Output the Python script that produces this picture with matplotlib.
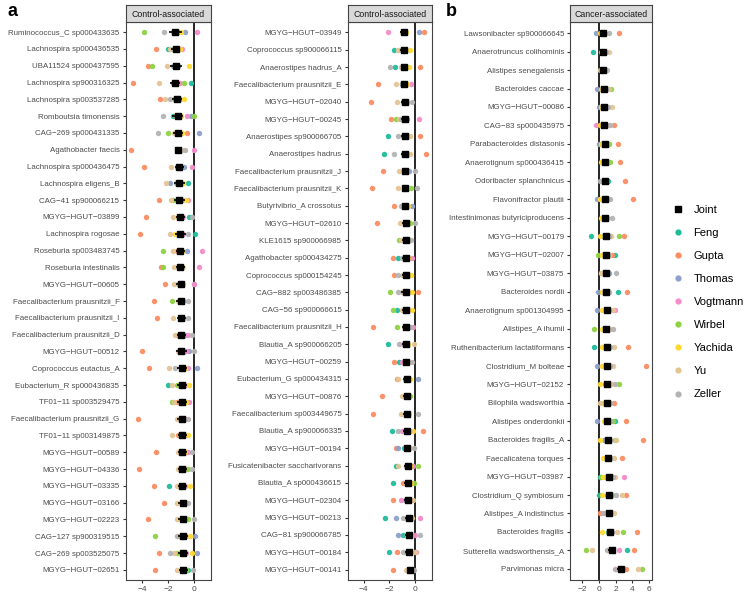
import matplotlib
matplotlib.use("Agg")
import matplotlib.pyplot as plt
from matplotlib.lines import Line2D

plt.rcParams["font.family"] = ["Liberation Sans", "DejaVu Sans"]

STUDIES = ["Feng", "Gupta", "Thomas", "Vogtmann", "Wirbel", "Yachida", "Yu", "Zeller"]
COLORS = ["#1FBC9C", "#FC8D62", "#8DA0CB", "#F38CC8", "#8ED243", "#FFD92F", "#E5C494", "#B3B3B3"]

# ---------------------------------------------------------------- panel a (left)
P1_NAMES = [
    "Ruminococcus_C sp000433635", "Lachnospira sp000436535", "UBA11524 sp000437595",
    "Lachnospira sp900316325", "Lachnospira sp003537285", "Romboutsia timonensis",
    "CAG\u2212269 sp000431335", "Agathobacter faecis", "Lachnospira sp000436475",
    "Lachnospira eligens_B", "CAG\u221241 sp900066215", "MGYG\u2212HGUT\u221203899",
    "Lachnospira rogosae", "Roseburia sp003483745", "Roseburia intestinalis",
    "MGYG\u2212HGUT\u221200605", "Faecalibacterium prausnitzii_F", "Faecalibacterium prausnitzii_I",
    "Faecalibacterium prausnitzii_D", "MGYG\u2212HGUT\u221200512", "Coprococcus eutactus_A",
    "Eubacterium_R sp000436835", "TF01\u221211 sp003529475", "Faecalibacterium prausnitzii_G",
    "TF01\u221211 sp003149875", "MGYG\u2212HGUT\u221200589", "MGYG\u2212HGUT\u221204336",
    "MGYG\u2212HGUT\u221203335", "MGYG\u2212HGUT\u221203166", "MGYG\u2212HGUT\u221202223",
    "CAG\u2212127 sp900319515", "CAG\u2212269 sp003525075", "MGYG\u2212HGUT\u221202651"]
P1_JOINT = [-1.45, -1.40, -1.40, -1.45, -1.32, -1.25, -1.25, -1.19, -1.14, -1.12, -1.12,
            -1.06, -1.04, -1.04, -1.04, -1.01, -1.01, -0.99, -0.96, -0.96, -0.94, -0.94,
            -0.94, -0.94, -0.91, -0.91, -0.88, -0.88, -0.86, -0.86, -0.83, -0.83, -0.81]
P1_CI = [0.5, 0.35, 0.45, 0.4, 0.4, 0.45, 0.4, 0.3, 0.35, 0.4, 0.4, 0.35, 0.4, 0.35, 0.35,
         0.35, 0.35, 0.35, 0.35, 0.4, 0.4, 0.4, 0.4, 0.35, 0.35, 0.35, 0.35, 0.35, 0.35,
         0.35, 0.4, 0.4, 0.35]
# columns follow STUDIES
P1_STUDY = [
    [-1.2, -1.3, -0.65, 0.23, -3.87, -0.99, -1.6, -2.31],
    [-2.03, -2.94, -1.2, -0.88, -1.6, -1.1, -1.84, -1.5],
    [-1.5, -3.53, -1.2, -1.3, -3.22, -0.39, -2.10, -1.6],
    [-0.23, -4.75, -1.2, -1.1, -0.78, -1.3, -2.68, -1.6],
    [-1.3, -2.62, -1.1, -1.2, -1.5, -0.78, -2.23, -1.84],
    [-1.61, -1.4, -0.25, -0.49, 0.03, -1.0, -1.3, -2.39],
    [-1.4, -0.55, 0.42, -1.1, -1.97, -0.9, -1.5, -2.81],
    [-1.0, -4.91, -1.1, 0.05, -1.2, -1.3, -1.0, -0.68],
    [-1.0, -3.87, -0.73, -0.16, -1.2, -1.1, -1.79, -1.3],
    [-0.47, -1.3, -1.84, -1.0, -1.2, -0.8, -2.16, -1.4],
    [-1.3, -2.68, -0.9, -0.42, -1.58, -0.6, -1.8, -1.0],
    [-0.39, -3.71, -1.0, -0.8, -1.2, -1.2, -1.64, -0.16],
    [0.10, -4.18, -0.9, -0.8, -1.2, -1.45, -1.84, -0.42],
    [-1.2, -1.3, -0.55, 0.62, -2.36, -0.9, -1.64, -1.1],
    [-1.0, -2.57, -1.1, 0.42, -2.39, -0.81, -1.56, -0.9],
    [-1.1, -2.26, 0.0, 0.03, -1.2, -0.8, -1.56, -0.9],
    [-1.1, -3.06, -0.8, -0.9, -1.71, -0.9, -1.2, -0.47],
    [-0.9, -2.88, -0.8, -0.8, -1.1, -0.8, -1.58, -0.47],
    [-0.8, -1.2, -0.7, -0.47, -1.0, -0.9, -1.48, -0.16],
    [-0.7, -4.0, -0.4, -0.6, -0.8, -1.1, -1.25, 0.03],
    [-0.8, -3.45, 0.23, -0.42, -0.9, -0.7, -1.92, -1.45],
    [-2.03, -1.2, -0.9, -0.7, -1.3, -0.34, -1.71, -1.0],
    [-1.0, -1.3, -0.7, -0.36, -1.71, -0.6, -1.56, -0.8],
    [-0.7, -4.31, -0.8, -0.7, -0.9, -0.8, -1.27, -0.42],
    [-1.0, -1.2, -0.8, -0.7, -1.1, -0.47, -1.69, -0.9],
    [-0.8, -2.96, -0.6, -0.47, -0.9, -0.7, -1.19, -0.16],
    [-0.7, -4.23, -0.6, -0.7, -0.42, -0.8, -1.19, -0.16],
    [-1.90, -3.06, -0.8, -0.7, -1.0, -0.29, -1.32, -0.9],
    [-0.7, -2.31, -0.7, -0.8, -0.9, -0.9, -1.32, -0.42],
    [-0.7, -3.56, -0.6, -0.7, -0.42, -0.8, -1.3, 0.03],
    [-0.8, -1.1, 0.08, -0.6, -2.99, -0.29, -1.2, -1.32],
    [-0.7, -2.73, 0.23, -0.6, -1.3, -0.13, -1.5, -1.82],
    [-0.42, -2.99, -0.6, -0.7, -0.6, -0.8, -1.27, -0.08]]

# ---------------------------------------------------------------- panel a (right)
P2_NAMES = [
    "MGYG\u2212HGUT\u221203949", "Coprococcus sp900066115", "Anaerostipes hadrus_A",
    "Faecalibacterium prausnitzii_E", "MGYG\u2212HGUT\u221202040", "MGYG\u2212HGUT\u221200245",
    "Anaerostipes sp900066705", "Anaerostipes hadrus", "Faecalibacterium prausnitzii_J",
    "Faecalibacterium prausnitzii_K", "Butyrivibrio_A crossotus", "MGYG\u2212HGUT\u221202610",
    "KLE1615 sp900066985", "Agathobacter sp000434275", "Coprococcus sp000154245",
    "CAG\u2212882 sp003486385", "CAG\u221256 sp900066615", "Faecalibacterium prausnitzii_H",
    "Blautia_A sp900066205", "MGYG\u2212HGUT\u221200259", "Eubacterium_G sp000434315",
    "MGYG\u2212HGUT\u221200876", "Faecalibacterium sp003449675", "Blautia_A sp900066335",
    "MGYG\u2212HGUT\u221200194", "Fusicatenibacter saccharivorans", "Blautia_A sp000436615",
    "MGYG\u2212HGUT\u221202304", "MGYG\u2212HGUT\u221200213", "CAG\u221281 sp900066785",
    "MGYG\u2212HGUT\u221200184", "MGYG\u2212HGUT\u221200141"]
P2_JOINT = [-0.84, -0.84, -0.81, -0.81, -0.78, -0.78, -0.76, -0.76, -0.73, -0.73, -0.73,
            -0.70, -0.70, -0.70, -0.70, -0.70, -0.68, -0.68, -0.68, -0.65, -0.60, -0.63,
            -0.63, -0.63, -0.57, -0.52, -0.52, -0.52, -0.47, -0.47, -0.47, -0.37]
P2_CI = [0.3] * 15 + [0.35] + [0.3] * 15 + [0.25]
P2_STUDY = [
    [-0.9, 0.70, 0.37, -2.06, -0.8, -0.7, -1.0, -0.9],
    [-1.59, -1.0, -0.7, -0.8, -0.9, -0.37, -1.28, -1.1],
    [-1.54, 0.44, -0.7, -0.8, -0.9, -0.42, -1.1, -1.93],
    [-1.02, -2.90, -0.7, -0.31, -0.9, -0.6, -1.46, -1.0],
    [-0.9, -3.39, -0.6, -0.7, -0.8, -0.6, -1.36, -0.23],
    [-1.0, -1.83, -0.6, 0.34, -1.46, -0.7, -1.2, -1.05],
    [-2.06, 0.42, -0.6, -0.7, -0.9, -0.6, -0.37, -1.33],
    [-2.38, 0.89, -0.6, -0.7, -0.9, -0.6, -0.37, -1.62],
    [-0.8, -2.45, -0.42, -0.6, -0.8, -0.7, -1.20, 0.0],
    [-0.8, -3.37, -0.6, -0.6, -0.31, -0.6, -1.28, 0.21],
    [-0.9, -1.59, -0.18, -0.6, -0.8, -0.5, -0.9, -1.10],
    [-0.8, -2.95, -0.6, -0.6, -0.37, -0.6, -1.15, 0.0],
    [-0.9, -0.8, -0.6, -0.6, -1.20, -0.5, -1.05, -0.29],
    [-1.33, -1.72, -0.6, -0.18, -0.8, -0.5, -0.9, -1.02],
    [-0.9, -1.62, -0.6, -0.6, -0.8, -0.26, -0.9, -1.33],
    [-0.9, 0.29, -0.6, -0.6, -1.93, -0.18, -1.0, -1.28],
    [-1.41, -0.9, -0.6, -0.5, -1.72, -0.21, -1.02, -0.8],
    [-0.8, -3.24, -0.5, -0.13, -1.41, -0.6, -0.85, -0.3],
    [-2.06, -0.8, -0.6, -0.9, -0.7, -0.5, -0.05, -1.20],
    [-1.23, -1.64, -0.6, -1.02, -0.7, -0.5, -0.5, -0.21],
    [-0.8, -1.41, 0.23, -0.6, -0.7, -0.4, -1.28, -0.8],
    [-0.8, -2.58, -0.5, -0.6, -0.37, -0.5, -1.02, -0.7],
    [-0.7, -3.29, -0.5, -0.6, -0.7, -0.45, -1.07, 0.23],
    [-1.75, 0.68, -0.5, -1.02, -0.7, -0.10, -0.4, -1.33],
    [-0.84, -1.49, -1.28, -0.6, -0.6, -0.4, -0.7, -0.03],
    [-1.49, -0.7, -0.5, -0.10, 0.29, -0.4, -1.28, -0.7],
    [-1.67, -0.94, -0.5, -0.5, -0.03, -0.3, -0.7, -0.6],
    [-0.7, -1.72, -0.8, -1.10, -0.6, -0.3, -0.10, -0.6],
    [-2.32, -0.6, -1.46, 0.42, -0.5, -0.3, -0.2, -0.89],
    [-0.94, -0.6, -1.33, 0.03, -0.5, -0.3, -0.6, 0.42],
    [-2.01, -1.41, -0.6, 0.08, -0.5, -0.3, 0.0, -0.89],
    [-0.5, -1.72, -0.4, -0.4, -0.4, -0.3, -0.68, -0.03]]

# ---------------------------------------------------------------- panel b
P3_NAMES = [
    "Lawsonibacter sp900066645", "Anaerotruncus colihominis", "Alistipes senegalensis",
    "Bacteroides caccae", "MGYG\u2212HGUT\u221200086", "CAG\u221283 sp000435975",
    "Parabacteroides distasonis", "Anaerotignum sp000436415", "Odoribacter splanchnicus",
    "Flavonifractor plautii", "Intestinimonas butyriciproducens", "MGYG\u2212HGUT\u221200179",
    "MGYG\u2212HGUT\u221202007", "MGYG\u2212HGUT\u221203875", "Bacteroides nordii",
    "Anaerotignum sp001304995", "Alistipes_A ihumii", "Ruthenibacterium lactatiformans",
    "Clostridium_M bolteae", "MGYG\u2212HGUT\u221202152", "Bilophila wadsworthia",
    "Alistipes onderdonkii", "Bacteroides fragilis_A", "Faecalicatena torques",
    "MGYG\u2212HGUT\u221203987", "Clostridium_Q symbiosum", "Alistipes_A indistinctus",
    "Bacteroides fragilis", "Sutterella wadsworthensis_A", "Parvimonas micra"]
P3_JOINT = [0.48, 0.56, 0.56, 0.63, 0.63, 0.67, 0.71, 0.75, 0.75, 0.79, 0.79, 0.87, 0.91,
            0.91, 0.91, 0.95, 0.91, 0.95, 0.99, 1.03, 1.03, 1.03, 1.07, 1.15, 1.19, 1.19,
            1.27, 1.39, 1.59, 2.62]
P3_CI = [0.3, 0.3, 0.25, 0.3, 0.3, 0.3, 0.3, 0.3, 0.3, 0.3, 0.3, 0.35, 0.3, 0.3, 0.3,
         0.3, 0.3, 0.3, 0.3, 0.3, 0.3, 0.35, 0.35, 0.3, 0.35, 0.3, 0.35, 0.4, 0.45, 0.4]
P3_STUDY = [
    [0.4, 2.42, -0.36, 0.5, 0.6, 0.2, 0.8, 1.27],
    [-0.63, 0.6, 0.4, 0.5, 0.7, 0.3, 1.27, 0.9],
    [0.5, 0.6, 0.4, 0.5, 0.6, 0.3, 0.1, 0.95],
    [0.5, 0.8, -0.24, 0.5, 1.47, 0.3, 1.27, 0.9],
    [0.5, 0.8, 0.0, 0.5, 0.8, 0.3, 1.55, 1.1],
    [0.6, 1.87, 0.4, -0.32, 0.8, 0.16, 1.0, 1.35],
    [0.6, 2.30, 0.0, 0.6, 1.23, 0.3, 0.9, 1.0],
    [0.7, 2.58, 0.5, 0.7, 1.35, 0.24, 1.0, 0.9],
    [1.15, 3.13, 0.5, 0.7, 0.9, 0.4, 0.6, 0.16],
    [0.7, 4.13, -0.24, 0.7, 1.0, 0.2, 1.1, 1.4],
    [0.7, 1.0, 0.5, 0.7, 0.9, 0.24, 1.0, 1.59],
    [-0.91, 3.02, 0.5, 0.8, 2.38, 0.16, 1.47, 1.2],
    [1.94, 1.59, 0.6, 0.8, -0.04, 0.4, 1.2, 1.1],
    [0.8, 1.1, 1.23, 0.8, 1.0, 0.3, 0.28, 2.06],
    [2.26, 3.33, -0.08, 0.8, 1.0, 0.4, 0.6, 1.2],
    [0.9, 1.2, -0.16, 1.94, 1.0, 0.4, 1.67, 1.2],
    [0.8, 1.2, 0.6, 0.9, -0.60, 0.4, 1.3, 1.75],
    [-0.60, 3.49, 0.6, 1.0, 1.1, 0.4, 1.87, 1.4],
    [0.9, 5.63, -0.24, 1.0, 1.1, 0.4, 1.67, 1.3],
    [1.0, 1.3, 0.7, 1.2, 2.42, 0.16, 1.5, 1.94],
    [1.0, 1.83, 0.7, 1.1, 1.2, 0.5, 0.2, 1.3],
    [1.98, 3.25, -0.24, 1.1, 1.75, 0.6, 0.9, 1.3],
    [1.0, 5.32, 0.6, 1.2, 1.9, 0.16, 2.06, 1.4],
    [1.1, 2.82, 0.9, 1.2, 1.3, 0.56, 1.83, 1.4],
    [0.16, 1.5, 0.9, 3.06, 0.3, 0.48, 1.94, 1.7],
    [0.0, 3.21, 1.0, 1.3, 1.6, 0.36, 2.78, 2.02],
    [1.1, 0.12, 1.0, 1.3, 1.4, 0.8, 1.83, 0.55],
    [1.05, 4.52, 1.2, 1.5, 2.86, 0.44, 2.14, 1.6],
    [3.41, 4.25, 1.3, 2.38, -1.51, 1.2, -0.75, 0.95],
    [2.8, 3.25, 2.9, 1.90, 5.16, 2.5, 4.68, 2.0]]

W, H = 748, 596
fig = plt.figure(figsize=(W / 100, H / 100), dpi=100)

TICK_COL = "#4D4D4D"
panels = [
    (P1_NAMES, P1_JOINT, P1_CI, P1_STUDY, 125.7, 85.0, (-5.3, 1.32), [-4, -2, 0], "Control-associated"),
    (P2_NAMES, P2_JOINT, P2_CI, P2_STUDY, 347.7, 84.0, (-5.25, 1.33), [-4, -2, 0], "Control-associated"),
    (P3_NAMES, P3_JOINT, P3_CI, P3_STUDY, 570.3, 82.0, (-3.38, 6.38), [-2, 0, 2, 4, 6], "Cancer-associated"),
]
top_px, bot_px, strip_px = 22, 580, 17

for names, joint, ci, study, x0, wpx, xlim, xt, title in panels:
    n = len(names)
    ax = fig.add_axes([x0 / W, 1 - bot_px / H, wpx / W, (bot_px - top_px) / H])
    ys = [n - i for i in range(n)]
    ax.axvline(0, color="black", lw=1.2, zorder=1)
    for j, (st, col) in enumerate(zip(STUDIES, COLORS)):
        ax.plot([row[j] for row in study], ys, "o", ms=3.9, color=col, mec="none",
                alpha=0.95, zorder=2)
    ax.errorbar(joint, ys, xerr=ci, fmt="s", ms=4.2, color="black", ecolor="black",
                elinewidth=1.2, capsize=0, zorder=4)
    ax.set_xlim(*xlim)
    ax.set_ylim(0.4, n + 0.6)
    ax.set_yticks(ys)
    ax.set_yticklabels(names)
    ax.set_xticks(xt)
    ax.set_xticklabels([str(v).replace("-", "\u2212") for v in xt])
    ax.tick_params(axis="both", labelsize=5.7, labelcolor=TICK_COL, color="#333333",
                   length=2.5, width=0.8, pad=2)
    ax.tick_params(axis="x", labelsize=6.0, pad=1.5)
    for sp in ax.spines.values():
        sp.set_color("#444444")
        sp.set_linewidth(0.8)
    # facet strip
    sax = fig.add_axes([x0 / W, 1 - top_px / H, wpx / W, strip_px / H])
    sax.set_facecolor("#D9D9D9")
    sax.set_xticks([])
    sax.set_yticks([])
    for sp in sax.spines.values():
        sp.set_color("#444444")
        sp.set_linewidth(0.8)
    sax.text(0.5, 0.45, title, ha="center", va="center", fontsize=6.3, color="#1A1A1A",
             transform=sax.transAxes)

fig.text(8 / W, 1 - 11 / H, "a", fontsize=13, fontweight="bold", ha="left", va="center")
fig.text(446 / W, 1 - 11 / H, "b", fontsize=13, fontweight="bold", ha="left", va="center")

handles = [Line2D([], [], marker="s", ls="none", color="black", ms=4.5, label="Joint")]
for st, col in zip(STUDIES, COLORS):
    handles.append(Line2D([], [], marker="o", ls="none", color=col, mec="none", ms=4.5, label=st))
fig.legend(handles=handles, loc="center left", bbox_to_anchor=(668 / W, 1 - 302 / H),
           frameon=False, fontsize=8, labelspacing=1.18, handletextpad=0.9,
           handlelength=1.0, borderaxespad=0)

fig.savefig("out.png", dpi=100)
